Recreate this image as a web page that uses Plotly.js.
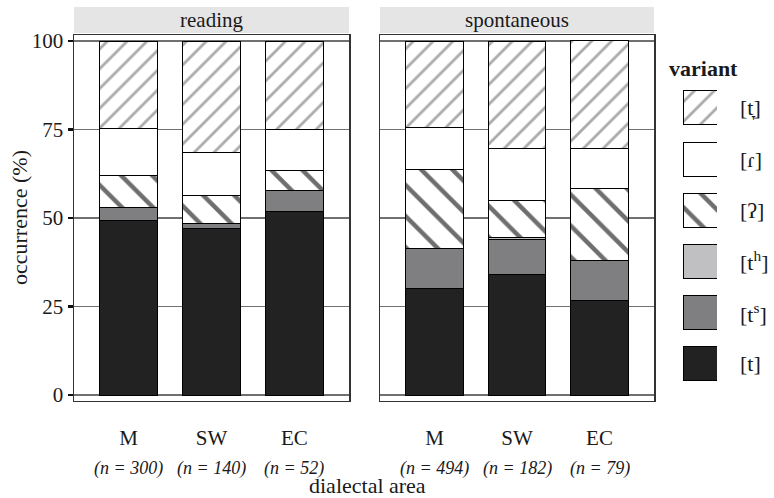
<!DOCTYPE html>
<html>
<head>
<meta charset="utf-8">
<script src="https://cdn.plot.ly/plotly-3.0.1.min.js"></script>
<style>html,body{margin:0;padding:0;background:#fff;}#chart{width:774px;height:498px;}</style>
</head>
<body>
<div id="chart"></div>
<script>
// ---- data ----
const areas = ['M', 'SW', 'EC'];
const readingN = [300, 140, 52];
const spontN = [494, 182, 79];
const panels = ['reading', 'spontaneous'];
// variants in stacking order (bottom to top)
const variants = ['[t]', '[t<sup>s</sup>]', '[t<sup>h</sup>]', '[ʔ]', '[ɾ]', '[t̞]'];
// percentages, per variant, for M, SW, EC
const reading_t   = [49.3, 47.1, 51.9];
const reading_ts  = [3.7, 1.4, 5.8];
const reading_th  = [0, 0, 0];
const reading_q   = [9.0, 7.9, 5.8];
const reading_r   = [13.3, 12.1, 11.5];
const reading_tl  = [24.7, 31.5, 25.0];
const spont_t     = [30.2, 34.1, 26.6];
const spont_ts    = [11.1, 9.9, 11.4];
const spont_th    = [0, 0.5, 0];
const spont_q     = [22.5, 10.4, 20.3];
const spont_r     = [11.7, 14.8, 11.4];
const spont_tl    = [24.5, 30.3, 30.4];

const readingVals = [reading_t, reading_ts, reading_th, reading_q, reading_r, reading_tl];
const spontVals = [spont_t, spont_ts, spont_th, spont_q, spont_r, spont_tl];
const swatchLen = [1, 1, 1, 1, 1, 1];

// ---- styles ----
const W = 774, H = 498;
const fills = ['#222222', '#7f7f82', '#c0c0c3', '#ffffff', '#ffffff', '#ffffff'];
const pShape = ['', '', '', '\\', '', '/'];
const pFg = ['#000', '#000', '#000', '#6e6e6e', '#000', '#ababab'];
const pSize = [8, 8, 8, 22, 8, 14];
const pSol = [0.3, 0.3, 0.3, 0.2, 0.3, 0.2];
const serif = 'Liberation Serif';
const txt = '#1a1a1a';

function px(x) { return x / W; }
function py(y) { return (H - y) / H; }

function marker(i) {
  const m = { color: fills[i], line: { color: '#000', width: 1 } };
  if (pShape[i]) {
    m.pattern = { shape: pShape[i], fgcolor: pFg[i], bgcolor: fills[i], size: pSize[i], solidity: pSol[i], fillmode: 'replace' };
  }
  return m;
}

const traces = [];
[readingVals, spontVals].forEach((vals, p) => {
  vals.forEach((v, i) => {
    traces.push({
      type: 'bar', x: areas, y: v, width: 0.7,
      xaxis: p === 0 ? 'x' : 'x2', yaxis: p === 0 ? 'y' : 'y2',
      name: variants[i], showlegend: false, hoverinfo: 'skip',
      marker: marker(i)
    });
  });
});

// legend swatches: one bar per variant on a hidden axis
variants.forEach((v, i) => {
  traces.push({
    type: 'bar', orientation: 'h', xaxis: 'x3', yaxis: 'y3',
    y: [i], x: [swatchLen[i]], width: 0.664,
    showlegend: false, hoverinfo: 'skip', marker: marker(i)
  });
});

const yDom = [py(400.7), py(35)];
const common = {
  showline: true, mirror: true, linecolor: '#333', linewidth: 1.5,
  zeroline: false, fixedrange: true
};
const hidden = {
  showgrid: false, zeroline: false, showline: false, showticklabels: false, ticks: '', fixedrange: true
};

const annotations = [];
panels.forEach((t, p) => {
  annotations.push({
    xref: 'paper', yref: 'paper', x: p === 0 ? px((74 + 349) / 2) : px((380 + 654) / 2), y: py(20),
    text: t, showarrow: false, xanchor: 'center', yanchor: 'middle',
    font: { family: serif, size: 21, color: txt }
  });
  const ns = p === 0 ? readingN : spontN;
  areas.forEach((a, k) => {
    annotations.push({
      xref: p === 0 ? 'x' : 'x2', yref: 'paper', x: a, y: py(468),
      text: '<i>(n = ' + ns[k] + ')</i>', showarrow: false, xanchor: 'center', yanchor: 'middle',
      font: { family: serif, size: 18, color: txt }
    });
  });
});
annotations.push({
  xref: 'paper', yref: 'paper', x: px(367), y: py(485), text: 'dialectal area', showarrow: false,
  xanchor: 'center', yanchor: 'middle', font: { family: serif, size: 22, color: txt }
});
annotations.push({
  xref: 'paper', yref: 'paper', x: px(19), y: py(218), text: 'occurrence (%)', showarrow: false,
  textangle: -90, xanchor: 'center', yanchor: 'middle', font: { family: serif, size: 22, color: txt }
});
annotations.push({
  xref: 'paper', yref: 'paper', x: px(667), y: py(68), text: '<b>variant</b>', showarrow: false,
  xanchor: 'left', yanchor: 'middle', font: { family: serif, size: 22, color: txt }
});
variants.forEach((v, i) => {
  annotations.push({
    xref: 'paper', yref: 'y3', x: px(738), y: i, text: v, showarrow: false,
    xanchor: 'left', yanchor: 'middle', font: { family: serif, size: 22, color: txt }
  });
});

const layout = {
  width: W, height: H, margin: { l: 0, r: 0, t: 0, b: 0 },
  paper_bgcolor: '#fff', plot_bgcolor: '#fff',
  barmode: 'stack', showlegend: false,
  font: { family: serif, color: txt },
  xaxis: Object.assign({}, common, {
    domain: [px(74), px(349)], type: 'category', range: [-0.66, 2.66], anchor: 'y',
    ticks: '', showgrid: false, ticklabelstandoff: 18,
    tickfont: { family: serif, size: 21, color: txt }
  }),
  xaxis2: Object.assign({}, common, {
    domain: [px(380), px(654)], type: 'category', range: [-0.66, 2.66], anchor: 'y2',
    ticks: '', showgrid: false, ticklabelstandoff: 18,
    tickfont: { family: serif, size: 21, color: txt }
  }),
  yaxis: Object.assign({}, common, {
    domain: yDom, range: [-1.6, 101.7], tickvals: [0, 25, 50, 75, 100], anchor: 'x',
    ticks: 'outside', ticklen: 5, tickwidth: 2.5, tickcolor: '#111',
    showgrid: true, gridcolor: '#707070', gridwidth: 1.6,
    tickfont: { family: serif, size: 21, color: txt }
  }),
  yaxis2: Object.assign({}, common, {
    domain: yDom, range: [-1.6, 101.7], tickvals: [0, 25, 50, 75, 100], anchor: 'x2',
    ticks: '', showticklabels: false,
    showgrid: true, gridcolor: '#707070', gridwidth: 1.6
  }),
  xaxis3: Object.assign({}, hidden, { domain: [px(683), px(717)], range: [0, 1], anchor: 'y3' }),
  yaxis3: Object.assign({}, hidden, { domain: [py(389.3), py(82.4)], range: [-0.5, 5.5], anchor: 'x3' }),
  shapes: [
    { type: 'rect', xref: 'paper', yref: 'paper', x0: px(74), x1: px(349), y0: py(33), y1: py(7), fillcolor: '#e5e5e5', line: { width: 0 }, layer: 'below' },
    { type: 'rect', xref: 'paper', yref: 'paper', x0: px(380), x1: px(654), y0: py(33), y1: py(7), fillcolor: '#e5e5e5', line: { width: 0 }, layer: 'below' }
  ],
  annotations: annotations
};

Plotly.newPlot('chart', traces, layout, { displayModeBar: false, staticPlot: true });
</script>
</body>
</html>
